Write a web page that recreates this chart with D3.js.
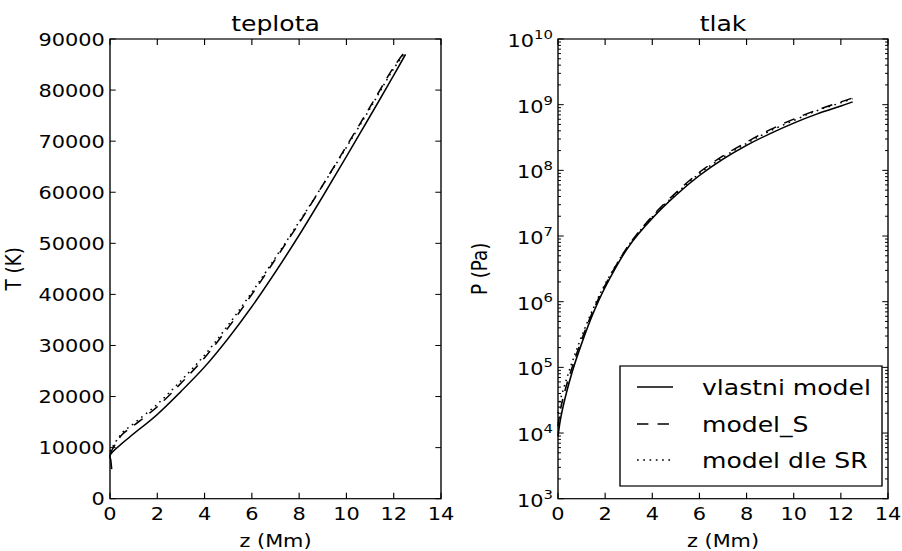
<!DOCTYPE html>
<html>
<head>
<meta charset="utf-8">
<script src="https://cdn.jsdelivr.net/npm/d3@7"></script>
<style>
  body { margin: 0; background: #fff; }
  svg { display: block; }
  text { font-family: "DejaVu Sans", sans-serif; fill: #000; }
</style>
</head>
<body>
<svg id="chart"></svg>
<script>
// teplota panel (z in Mm, T in K)
var zVlastniT = [0.07, 0.03, 0, 0.5, 1, 2, 3, 4, 5, 6, 7, 8, 9, 10, 11, 12, 12.5];
var tVlastni  = [5800, 7600, 8500, 10800, 12700, 16500, 21000, 25800, 31400, 37600, 44400, 51600, 59200, 67000, 74900, 82900, 87000];
var zModelT   = [0, 0.5, 1, 2, 3, 4, 5, 6, 7, 8, 9, 10, 11, 12, 12.5];
var tModelS   = [8800, 12500, 14300, 18000, 22600, 27600, 33500, 40000, 46900, 54000, 61400, 69000, 76700, 84500, 87700];
var tModelSR  = [9300, 12800, 14700, 18500, 23100, 28100, 34000, 40400, 47200, 54200, 61400, 68800, 76400, 84200, 87400];

// tlak panel (z in Mm, P in Pa)
var zP        = [0, 0.1, 0.3, 0.6, 1, 1.5, 2, 3, 4, 5, 6, 7, 8, 9, 10, 11, 12, 12.5];
var pVlastni  = [8.9e3, 1.58e4, 3.39e4, 8.51e4, 2.29e5, 6.76e5, 1.66e6, 6.92e6, 1.86e7, 4.17e7, 8.32e7, 1.48e8, 2.40e8, 3.63e8, 5.25e8, 7.24e8, 9.55e8, 1.10e9];
var pModelS   = [1.26e4, 2.24e4, 4.47e4, 1.0e5, 2.63e5, 7.41e5, 1.78e6, 7.24e6, 2.0e7, 4.57e7, 9.33e7, 1.66e8, 2.69e8, 4.17e8, 6.03e8, 8.32e8, 1.10e9, 1.26e9];
var pModelSR  = [2.0e4, 3.16e4, 5.62e4, 1.2e5, 2.95e5, 7.94e5, 1.86e6, 7.24e6, 1.95e7, 4.37e7, 8.91e7, 1.58e8, 2.57e8, 3.98e8, 5.75e8, 8.13e8, 1.07e9, 1.23e9];

var xTicks = [0, 2, 4, 6, 8, 10, 12, 14];
var tTicks = [0, 10000, 20000, 30000, 40000, 50000, 60000, 70000, 80000, 90000];
var pExps  = [3, 4, 5, 6, 7, 8, 9, 10];
var legendNames = ["vlastni model", "model_S", "model dle SR"];
var dashes = [null, "10,8", "1.5,4"];

// the figure looks stretched sideways, so draw in a narrower box and stretch it
var W = 902, H = 551, sx = 1.14, IW = W / sx;
var svg = d3.select("#chart")
    .attr("width", W).attr("height", H)
    .attr("viewBox", "0 0 " + IW + " " + H)
    .attr("preserveAspectRatio", "none");

var plotTop = 39, plotBottom = 498.7;
var fs = 18.3;

var leftBox = {x0: 110 / sx, x1: 441 / sx};
var rightBox = {x0: 558 / sx, x1: 888 / sx};

function frame(p, title, ylab, ylabX) {
    var g = svg.append("g");
    g.append("rect")
        .attr("x", p.x0).attr("y", plotTop)
        .attr("width", p.x1 - p.x0).attr("height", plotBottom - plotTop)
        .attr("fill", "none").attr("stroke", "#000").attr("stroke-width", 1.2);
    g.append("text")
        .attr("x", (p.x0 + p.x1) / 2).attr("y", 31)
        .attr("text-anchor", "middle").style("font-size", "22px")
        .text(title);
    g.append("text")
        .attr("x", (p.x0 + p.x1) / 2).attr("y", 547.5)
        .attr("text-anchor", "middle").style("font-size", fs + "px")
        .text("z (Mm)");
    g.append("text")
        .attr("transform", "translate(" + ylabX + "," + ((plotTop + plotBottom) / 2) + ") rotate(-90)")
        .attr("text-anchor", "middle").style("font-size", fs + "px")
        .text(ylab);
    return g;
}

function xAxis(g, x) {
    xTicks.forEach(function(t) {
        var px = x(t);
        g.append("line").attr("x1", px).attr("x2", px).attr("y1", plotBottom).attr("y2", plotBottom - 6)
            .attr("stroke", "#000");
        g.append("line").attr("x1", px).attr("x2", px).attr("y1", plotTop).attr("y2", plotTop + 6)
            .attr("stroke", "#000");
        g.append("text").attr("x", px).attr("y", 520)
            .attr("text-anchor", "middle").style("font-size", fs + "px")
            .text(t);
    });
}

var line = function(x, y) {
    return d3.line()
        .x(function(d) { return x(d[0]); })
        .y(function(d) { return y(d[1]); })
        .curve(d3.curveCatmullRom.alpha(0.5));
};

function drawSeries(g, gen, series) {
    series.forEach(function(s, i) {
        g.append("path")
            .attr("d", gen(s))
            .attr("fill", "none")
            .attr("stroke", "#000")
            .attr("stroke-width", 1.4)
            .attr("stroke-dasharray", dashes[i]);
    });
}

// left panel: teplota
var xL = d3.scaleLinear().domain([0, 14]).range([leftBox.x0, leftBox.x1]);
var yT = d3.scaleLinear().domain([0, 90000]).range([plotBottom, plotTop]);
var gL = frame(leftBox, "teplota", "T (K)", 21 / sx);
xAxis(gL, xL);
tTicks.forEach(function(t) {
    var py = yT(t);
    gL.append("line").attr("x1", leftBox.x0).attr("x2", leftBox.x0 + 5).attr("y1", py).attr("y2", py).attr("stroke", "#000");
    gL.append("line").attr("x1", leftBox.x1).attr("x2", leftBox.x1 - 5).attr("y1", py).attr("y2", py).attr("stroke", "#000");
    gL.append("text").attr("x", leftBox.x0 - 4.5).attr("y", py + 6.6)
        .attr("text-anchor", "end").style("font-size", fs + "px")
        .text(t);
});
drawSeries(gL, line(xL, yT), [
    d3.zip(zVlastniT, tVlastni),
    d3.zip(zModelT, tModelS),
    d3.zip(zModelT, tModelSR)
]);

// right panel: tlak
var xR = d3.scaleLinear().domain([0, 14]).range([rightBox.x0, rightBox.x1]);
var yP = d3.scaleLog().domain([1e3, 1e10]).range([plotBottom, plotTop]);
var gR = frame(rightBox, "tlak", "P (Pa)", 487 / sx);
xAxis(gR, xR);
pExps.forEach(function(e) {
    var py = yP(Math.pow(10, e));
    gR.append("line").attr("x1", rightBox.x0).attr("x2", rightBox.x0 + 5).attr("y1", py).attr("y2", py).attr("stroke", "#000");
    gR.append("line").attr("x1", rightBox.x1).attr("x2", rightBox.x1 - 5).attr("y1", py).attr("y2", py).attr("stroke", "#000");
    var lab = gR.append("text").attr("x", rightBox.x0 - 4.5).attr("y", py + 8)
        .attr("text-anchor", "end").style("font-size", fs + "px");
    lab.append("tspan").text("10");
    lab.append("tspan").attr("dy", -8).style("font-size", "13px").text(e);
    if (e < 10) {
        for (var m = 2; m < 10; m++) {
            var my = yP(m * Math.pow(10, e));
            gR.append("line").attr("x1", rightBox.x0).attr("x2", rightBox.x0 + 2.6).attr("y1", my).attr("y2", my).attr("stroke", "#000");
            gR.append("line").attr("x1", rightBox.x1).attr("x2", rightBox.x1 - 2.6).attr("y1", my).attr("y2", my).attr("stroke", "#000");
        }
    }
});
drawSeries(gR, line(xR, yP), [
    d3.zip(zP, pVlastni),
    d3.zip(zP, pModelS),
    d3.zip(zP, pModelSR)
]);

// legend
var lg = gR.append("g");
lg.append("rect")
    .attr("x", 620 / sx).attr("y", 366)
    .attr("width", (882 - 620) / sx).attr("height", 120)
    .attr("fill", "#fff").attr("stroke", "#000").attr("stroke-width", 1.2);
var rowY = [387, 424, 460];
legendNames.forEach(function(name, i) {
    lg.append("line")
        .attr("x1", 637 / sx).attr("x2", 673 / sx)
        .attr("y1", rowY[i]).attr("y2", rowY[i])
        .attr("stroke", "#000").attr("stroke-width", 1.4)
        .attr("stroke-dasharray", dashes[i]);
    lg.append("text")
        .attr("x", 702 / sx).attr("y", rowY[i] + 8)
        .style("font-size", "22px")
        .text(name);
});
</script>
</body>
</html>
